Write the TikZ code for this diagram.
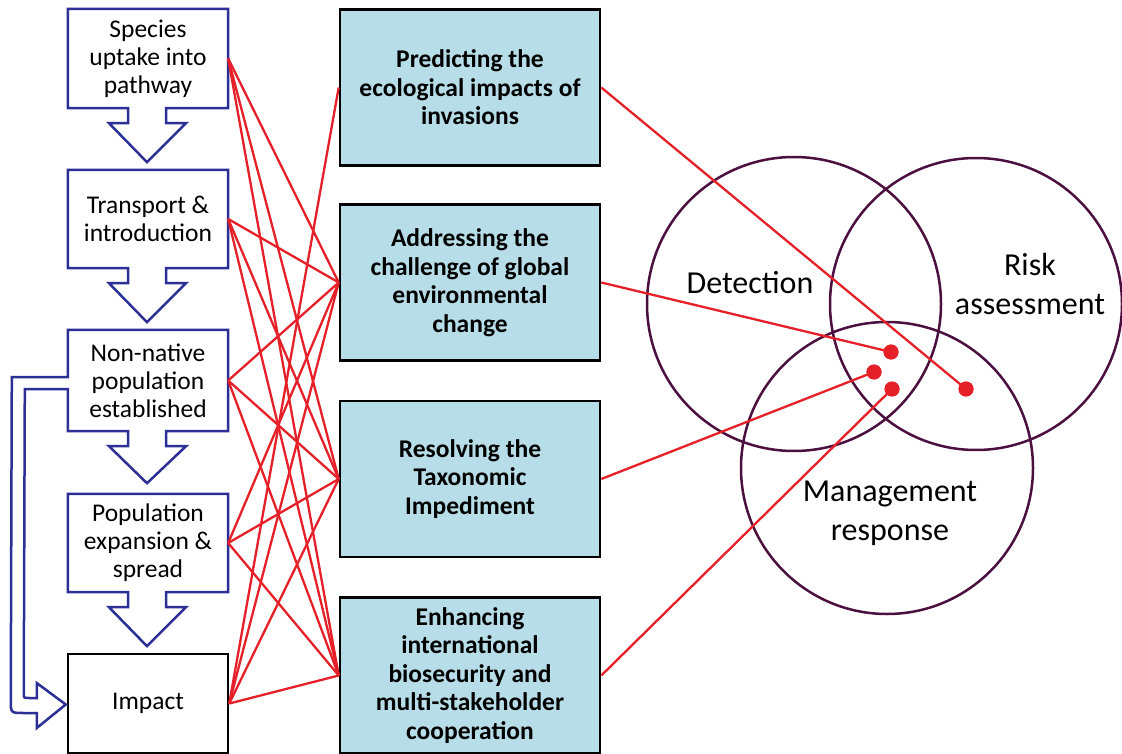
\documentclass[tikz,border=0pt]{standalone}
\usepackage{fontspec}
\setmainfont{Carlito}
\usetikzlibrary{calc}
\definecolor{redline}{RGB}{230,32,40}
\definecolor{navyline}{RGB}{43,47,150}
\definecolor{plum}{RGB}{75,16,64}
\definecolor{aqua}{RGB}{183,222,232}
\begin{document}
\begin{tikzpicture}[x=1pt,y=-1pt,
 stage/.style={draw=none, minimum width=160pt, inner sep=0pt, align=center, font=\fontsize{25.5}{28}\selectfont},
 goal/.style={draw=black, line width=2.6pt, fill=aqua, minimum width=260pt, minimum height=156pt, inner sep=0pt, align=center, font=\fontsize{25.5}{28.5}\selectfont\bfseries},
 outline/.style={draw=navyline, line width=2.5pt, line join=miter},
 link/.style={draw=redline, line width=2.3pt},
 ring/.style={draw=plum, line width=2.5pt, circle, inner sep=0pt},
 dot/.style={circle, fill=redline, inner sep=0pt, minimum size=15pt},
 vlabel/.style={align=center, font=\fontsize{32}{39}\selectfont}]
\useasboundingbox (0,0) rectangle (1122,754);
\fill[white] (0,0) rectangle (1122,754);

% left column stages
\node[stage, minimum height=99pt] (s1) at (148,58.5) {Species\\uptake into\\pathway};
\node[stage, minimum height=98pt] (s2) at (148,219) {Transport \&\\introduction};
\node[stage, minimum height=101pt] (s3) at (148,380.5) {Non-native\\population\\established};
\node[stage, minimum height=98pt] (s4) at (148,543) {Population\\expansion \&\\spread};
\node[stage, minimum height=99pt, draw=black, line width=2.5pt] (s5) at (148,703.5) {Impact};

% box + block arrow outlines
\foreach \s in {s1,s2,s4}{
 \draw[outline] (\s.south west) -- (\s.north west) -- (\s.north east) -- (\s.south east)
  -- ($(\s.south)+(18,0)$) -- ($(\s.south)+(18,15)$) -- ($(\s.south)+(38,15)$)
  -- ($(\s.south)+(-1,54)$) -- ($(\s.south)+(-39,15)$) -- ($(\s.south)+(-20,15)$)
  -- ($(\s.south)+(-20,0)$) -- cycle;
}
% non-native box with feedback arrow to Impact
\draw[outline] ($(s3.west)+(0,-3.5)$) -- (s3.north west) -- (s3.north east) -- (s3.south east)
  -- ($(s3.south)+(18,0)$) -- ($(s3.south)+(18,15)$) -- ($(s3.south)+(38,15)$)
  -- ($(s3.south)+(-1,52)$) -- ($(s3.south)+(-39,15)$) -- ($(s3.south)+(-20,15)$)
  -- ($(s3.south)+(-20,0)$) -- (s3.south west) -- ($(s3.west)+(0,8.5)$)
  -- ($(s3.west)+(-43,8.5)$) -- ($(s5.west)+(-43,-10.5)$)
  .. controls ($(s5.west)+(-43,-5.5)$) .. ($(s5.west)+(-38,-5.5)$)
  -- ($(s5.west)+(-30,-5.5)$) -- ($(s5.west)+(-30,-20.5)$) -- ($(s5.west)+(-1,1)$)
  -- ($(s5.west)+(-30,24.5)$) -- ($(s5.west)+(-30,9.5)$) -- ($(s5.west)+(-43,9.5)$)
  .. controls ($(s5.west)+(-56,9.5)$) .. ($(s5.west)+(-56,-3.5)$)
  -- ($(s3.west)+(-56,-3.5)$) -- cycle;

% middle column goals
\node[goal] (g1) at (470,87.5) {Predicting the\\ecological impacts of\\invasions};
\node[goal] (g2) at (470,282.5) {Addressing the\\challenge of global\\environmental\\change};
\node[goal] (g3) at (470,479) {Resolving the\\Taxonomic\\Impediment};
\node[goal] (g4) at (470,675.5) {Enhancing\\international\\biosecurity and\\multi-stakeholder\\cooperation};

% links stages -> goals
\foreach \s in {s1,s2,s3,s4,s5}{
 \foreach \g in {g2,g3,g4}{
  \draw[link] (\s.east) -- (\g.west);
 }
}
\draw[link] (s5.east) -- (g1.west);

% Venn circles
\node[ring, minimum size=294pt] (c1) at (794,304) {};
\node[ring, minimum size=292pt] (c2) at (976,304) {};
\node[ring, minimum size=292pt] (c3) at (887,468) {};
\node[vlabel] (l1) at (750,283) {Detection};
\node[vlabel] (l2) at (1030,284) {Risk\\assessment};
\node[vlabel] (l3) at (890,513) {Management\\response};

% dots
\node[dot] (d1) at (891,352) {};
\node[dot] (d2) at (874,372) {};
\node[dot] (d3) at (892,389) {};
\node[dot] (d4) at (966,389) {};

\draw[link] (g1.east) -- (d4.center);
\draw[link] (g2.east) -- (d1.center);
\draw[link] (g3.east) -- (d2.center);
\draw[link] (g4.east) -- (d3.center);
\foreach \d in {d1,d2,d3,d4}{\fill[redline] (\d) circle (7.5pt);}
\end{tikzpicture}
\end{document}
